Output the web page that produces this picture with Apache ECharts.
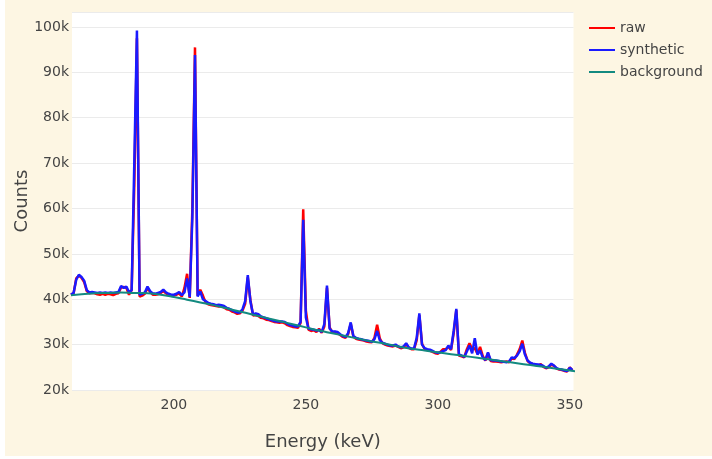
<!DOCTYPE html>
<html>
<head>
<meta charset="utf-8">
<title>Spectrum</title>
<script src="https://cdn.jsdelivr.net/npm/echarts@6/dist/echarts.min.js"></script>
<style>
  html, body { margin: 0; padding: 0; background: #ffffff; }
  #chart { position: absolute; left: 5px; top: 0; width: 707px; height: 456px; }
</style>
</head>
<body>
<div id="chart"></div>
<script>
// energy grid, keV
const energy = [
  161, 162, 163, 164, 165, 166, 167, 168, 169, 170,
  171, 172, 173, 174, 175, 176, 177, 178, 179, 180,
  181, 182, 183, 184, 185, 186, 187, 188, 189, 190,
  191, 192, 193, 194, 195, 196, 197, 198, 199, 200,
  201, 202, 203, 204, 205, 206, 207, 208, 209, 210,
  211, 212, 213, 214, 215, 216, 217, 218, 219, 220,
  221, 222, 223, 224, 225, 226, 227, 228, 229, 230,
  231, 232, 233, 234, 235, 236, 237, 238, 239, 240,
  241, 242, 243, 244, 245, 246, 247, 248, 249, 250,
  251, 252, 253, 254, 255, 256, 257, 258, 259, 260,
  261, 262, 263, 264, 265, 266, 267, 268, 269, 270,
  271, 272, 273, 274, 275, 276, 277, 278, 279, 280,
  281, 282, 283, 284, 285, 286, 287, 288, 289, 290,
  291, 292, 293, 294, 295, 296, 297, 298, 299, 300,
  301, 302, 303, 304, 305, 306, 307, 308, 309, 310,
  311, 312, 313, 314, 315, 316, 317, 318, 319, 320,
  321, 322, 323, 324, 325, 326, 327, 328, 329, 330,
  331, 332, 333, 334, 335, 336, 337, 338, 339, 340,
  341, 342, 343, 344, 345, 346, 347, 348, 349, 350,
  351
]

// measured counts (thousands)
const raw = [
  41.0, 41.3, 44.6, 45.2, 44.7, 43.8, 41.8, 41.3, 41.4, 41.3,
  41.1, 41.0, 41.2, 41.0, 41.2, 41.1, 40.9, 41.2, 41.3, 42.6,
  42.7, 42.5, 41.0, 42.0, 65.0, 97.5, 40.6, 40.8, 41.2, 42.5,
  41.6, 41.0, 41.0, 41.1, 41.4, 41.8, 41.3, 40.9, 40.8, 40.9,
  41.0, 41.3, 40.6, 42.5, 45.6, 40.3, 60.0, 95.5, 40.8, 42.1,
  40.8, 39.3, 38.9, 38.7, 38.6, 38.5, 38.4, 38.5, 38.2, 37.8,
  37.7, 37.3, 37.1, 36.8, 36.9, 37.5, 39.0, 44.8, 39.8, 36.4,
  36.5, 36.3, 35.9, 35.8, 35.5, 35.4, 35.2, 35.0, 34.9, 34.8,
  34.9, 34.7, 34.3, 34.1, 33.9, 33.8, 33.7, 34.8, 59.8, 37.5,
  33.3, 33.0, 33.2, 32.8, 33.5, 32.6, 34.0, 42.5, 33.8, 32.7,
  32.8, 32.6, 32.1, 31.7, 31.5, 32.3, 34.6, 31.8, 31.3, 31.1,
  31.0, 30.9, 30.7, 30.6, 30.5, 31.5, 34.4, 31.4, 30.3, 30.0,
  29.8, 29.7, 29.6, 29.8, 29.5, 29.2, 29.4, 30.1, 29.3, 29.0,
  29.0, 31.0, 36.5, 30.2, 29.0, 28.8, 28.7, 28.4, 28.1, 28.0,
  28.4, 29.0, 29.0, 29.5, 28.8, 32.5, 37.6, 27.6, 27.4, 27.2,
  29.0, 30.3, 29.0, 29.2, 28.0, 29.5, 27.5, 26.5, 28.1, 26.4,
  26.3, 26.3, 26.2, 26.1, 26.2, 26.3, 26.1, 27.0, 26.8, 27.8,
  29.0, 30.9, 28.2, 26.4, 25.9, 25.7, 25.5, 25.4, 25.7, 25.1,
  24.8, 25.0, 25.6, 25.3, 24.7, 24.5, 24.4, 24.2, 24.1, 25.0,
  24.3
]

// fitted spectrum (thousands)
const synthetic = [
  41.0, 41.4, 44.3, 45.4, 44.9, 44.1, 42.0, 41.5, 41.6, 41.5,
  41.4, 41.5, 41.4, 41.5, 41.4, 41.5, 41.4, 41.5, 41.6, 42.9,
  42.5, 42.8, 41.6, 42.0, 70.0, 99.2, 41.0, 41.2, 41.5, 42.8,
  41.8, 41.3, 41.2, 41.4, 41.6, 42.1, 41.5, 41.2, 41.0, 41.0,
  41.2, 41.6, 40.9, 41.5, 44.6, 40.5, 58.0, 93.8, 40.6, 41.7,
  40.0, 39.6, 39.2, 39.0, 38.9, 38.7, 38.8, 38.7, 38.5, 38.1,
  37.9, 37.6, 37.3, 37.1, 37.1, 37.8, 39.6, 45.3, 39.5, 36.6,
  36.9, 36.7, 36.2, 36.0, 35.8, 35.6, 35.4, 35.2, 35.1, 35.1,
  35.1, 35.0, 34.6, 34.3, 34.2, 34.0, 34.0, 35.0, 57.5, 36.0,
  33.5, 33.4, 33.3, 33.1, 33.2, 32.8, 34.5, 43.0, 33.5, 32.9,
  32.9, 32.8, 32.3, 31.9, 31.7, 32.5, 34.9, 31.9, 31.5, 31.3,
  31.2, 31.0, 30.9, 30.8, 30.6, 31.2, 33.0, 31.0, 30.4, 30.2,
  30.0, 29.8, 29.8, 30.0, 29.6, 29.4, 29.6, 30.3, 29.4, 29.1,
  29.2, 31.5, 36.9, 30.0, 29.2, 29.0, 28.9, 28.6, 28.3, 28.2,
  28.3, 28.6, 28.8, 29.8, 29.0, 33.0, 37.9, 27.8, 27.6, 27.3,
  28.5, 29.8, 28.1, 31.4, 27.8, 28.7, 27.2, 26.6, 28.3, 26.6,
  26.5, 26.5, 26.4, 26.3, 26.2, 26.1, 26.3, 27.2, 27.0, 27.6,
  28.5, 30.2, 27.8, 26.5, 26.0, 25.8, 25.7, 25.6, 25.5, 25.3,
  24.9, 25.2, 25.8, 25.4, 24.8, 24.6, 24.5, 24.3, 24.2, 24.9,
  24.4
]

// smooth background estimate, sampled every 5 keV (thousands)
const bgEnergy = [
  160, 165, 170, 175, 180, 185, 190, 195, 200, 205,
  210, 215, 220, 225, 230, 235, 240, 245, 250, 255,
  260, 265, 270, 275, 280, 285, 290, 295, 300, 305,
  310, 315, 320, 325, 330, 335, 340, 345, 350, 355
]
const background = [
  40.8, 41.1, 41.3, 41.4, 41.5, 41.4, 41.3, 41.0, 40.5, 39.9,
  39.3, 38.7, 38.0, 37.3, 36.6, 35.9, 35.2, 34.5, 33.8, 33.1,
  32.5, 31.9, 31.3, 30.7, 30.2, 29.6, 29.1, 28.7, 28.3, 27.9,
  27.5, 27.1, 26.7, 26.3, 25.9, 25.5, 25.1, 24.7, 24.3, 23.9
]

const yTicks = [20, 30, 40, 50, 60, 70, 80, 90, 100]
const xTicks = [200, 250, 300, 350]

const pair = (xs, ys) => xs.map((x, i) => [x, ys[i] * 1000])

const FONT = 'DejaVu Sans'
const TEXT = '#444444'

const chart = echarts.init(document.getElementById('chart'))
chart.setOption({
  backgroundColor: '#fdf6e3',
  animation: false,
  textStyle: { fontFamily: FONT, color: TEXT },
  grid: {
    left: 67,
    top: 12,
    width: 501.5,
    height: 378,
    containLabel: false,
    outerBoundsMode: 'none',
    show: true,
    backgroundColor: '#ffffff',
    borderWidth: 0,
  },
  legend: {
    orient: 'vertical',
    left: 579,
    top: 16,
    itemWidth: 26,
    itemHeight: 2,
    itemGap: 8,
    icon: 'rect',
    textStyle: { fontFamily: FONT, fontSize: 14, color: TEXT },
    data: ['raw', 'synthetic', 'background'],
  },
  xAxis: {
    type: 'value',
    min: 161.4,
    max: 351.4,
    name: 'Energy (keV)',
    nameLocation: 'middle',
    nameGap: 43,
    nameMoveOverlap: false,
    nameTextStyle: { fontFamily: FONT, fontSize: 18, color: TEXT },
    axisLine: { show: false },
    axisTick: { show: false },
    splitLine: { show: false },
    axisLabel: {
      customValues: xTicks,
      fontFamily: FONT,
      fontSize: 14,
      color: TEXT,
      margin: 8,
    },
  },
  yAxis: {
    type: 'value',
    min: 20000,
    max: 103300,
    interval: 10000,
    name: 'Counts',
    nameLocation: 'middle',
    nameGap: 41,
    nameMoveOverlap: false,
    nameTextStyle: { fontFamily: FONT, fontSize: 18, color: TEXT },
    axisLine: { show: false },
    axisTick: { show: false },
    splitLine: { show: true, lineStyle: { color: '#ebebeb', width: 1 } },
    axisLabel: {
      customValues: yTicks.map((v) => v * 1000),
      formatter: (v) => v / 1000 + 'k',
      fontFamily: FONT,
      fontSize: 14,
      color: TEXT,
      margin: 3,
    },
  },
  series: [
    {
      name: 'raw',
      type: 'line',
      data: pair(energy, raw),
      showSymbol: false,
      symbol: 'none',
      lineStyle: { color: '#ff0000', width: 2.5 },
      itemStyle: { color: '#ff0000' },
    },
    {
      name: 'synthetic',
      type: 'line',
      data: pair(energy, synthetic),
      showSymbol: false,
      symbol: 'none',
      lineStyle: { color: '#1a1aff', width: 2.5 },
      itemStyle: { color: '#1a1aff' },
    },
    {
      name: 'background',
      type: 'line',
      data: pair(bgEnergy, background),
      smooth: true,
      showSymbol: false,
      symbol: 'none',
      lineStyle: { color: '#138a80', width: 2 },
      itemStyle: { color: '#138a80' },
    },
  ],
})
</script>
</body>
</html>
